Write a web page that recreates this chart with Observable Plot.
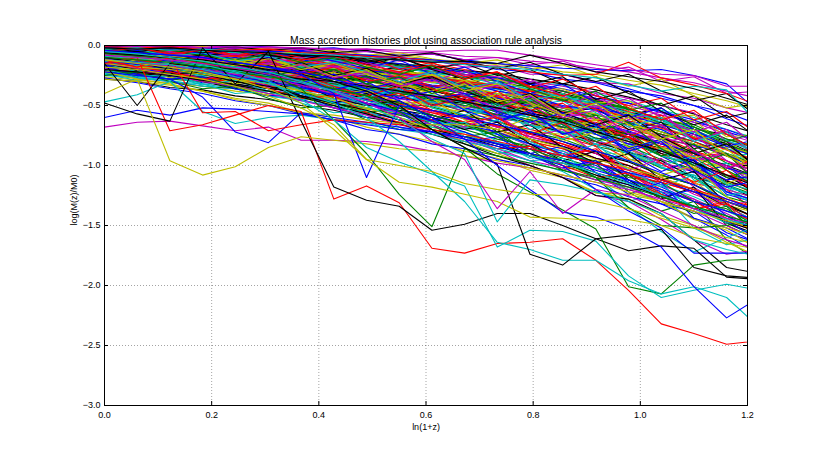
<!DOCTYPE html>
<html>
<head>
<meta charset="utf-8">
<script src="https://cdn.jsdelivr.net/npm/d3@7"></script>
<script src="https://cdn.jsdelivr.net/npm/@observablehq/plot@0.6"></script>
<style>
  html, body { margin: 0; padding: 0; background: #fff; }
</style>
</head>
<body>
<div id="chart"></div>
<script>
// ---- text ----
const titleText = "Mass accretion histories plot using association rule analysis";
const xLabelText = "ln(1+z)";
const yLabelText = "log(M(z)/M0)";

// ---- tick labels ----
const xTicks = [0, 0.2, 0.4, 0.6, 0.8, 1.0, 1.2];
const yTicks = [0, -0.5, -1.0, -1.5, -2.0, -2.5, -3.0];

// ---- sample positions ln(1+z) ----
const xValues = [0, .061, .122, .183, .244, .306, .367, .428, .489, .55, .611, .672, .733, .794, .855, .917, .978, 1.039, 1.1, 1.161, 1.222];

// ---- matplotlib classic colour cycle ----
const colorCycle = ["b", "g", "r", "c", "m", "y", "k"];
const colorHex = {b: "#0000ff", g: "#008000", r: "#ff0000", c: "#00bfbf", m: "#bf00bf", y: "#bfbf00", k: "#000000"};

// ---- bulk of the histories (colours follow the cycle) ----
const bandHistories = [
[0,-.01,0,-.02,0,-.01,-.03,-.02,-.05,-.08,-.07,-.12,-.15,-.19,-.24,-.30,-.36,-.44,-.50,-.61,-.70],
[-.08,-.12,-.10,-.15,-.14,-.19,-.20,-.26,-.25,-.33,-.34,-.38,-.47,-.49,-.57,-.70,-.72,-.85,-.90,-1.08,-1.12],
[-.14,-.16,-.20,-.19,-.25,-.26,-.33,-.32,-.40,-.42,-.50,-.52,-.61,-.64,-.77,-.80,-.95,-.98,-1.15,-1.20,-1.40],
[-.04,-.06,-.05,-.08,-.07,-.10,-.10,-.15,-.14,-.20,-.21,-.27,-.29,-.37,-.40,-.51,-.53,-.66,-.70,-.86,-.92],
[-.18,-.22,-.26,-.28,-.33,-.35,-.40,-.46,-.48,-.56,-.60,-.69,-.72,-.84,-.88,-1.02,-1.06,-1.22,-1.28,-1.47,-1.55],
[-.10,-.09,-.13,-.14,-.15,-.20,-.22,-.24,-.30,-.33,-.40,-.45,-.52,-.60,-.68,-.80,-.88,-1.02,-1.10,-1.30,-1.38],
[-.03,-.05,-.06,-.05,-.10,-.11,-.14,-.18,-.20,-.27,-.30,-.38,-.43,-.50,-.58,-.66,-.78,-.86,-1.00,-1.08,-1.25],
[-.21,-.22,-.24,-.27,-.28,-.31,-.33,-.36,-.38,-.40,-.43,-.46,-.49,-.54,-.60,-.66,-.72,-.82,-.90,-1.02,-1.12],
[-.13,-.17,-.17,-.22,-.23,-.27,-.30,-.35,-.37,-.44,-.47,-.55,-.58,-.66,-.72,-.84,-.90,-1.02,-1.10,-1.26,-1.34],
[-.01,0,-.02,-.01,-.03,-.02,-.05,-.06,-.09,-.12,-.15,-.20,-.24,-.30,-.38,-.45,-.55,-.62,-.74,-.82,-.95],
[-.06,-.08,-.07,-.11,-.12,-.13,-.17,-.19,-.21,-.26,-.27,-.33,-.36,-.42,-.46,-.54,-.60,-.70,-.76,-.90,-.98],
[-.16,-.18,-.21,-.22,-.26,-.29,-.30,-.36,-.39,-.45,-.46,-.55,-.57,-.67,-.70,-.82,-.86,-1.00,-1.05,-1.22,-1.30],
[-.11,-.13,-.12,-.17,-.16,-.21,-.22,-.27,-.29,-.34,-.38,-.42,-.48,-.54,-.58,-.68,-.74,-.85,-.93,-1.04,-1.18],
[-.02,-.03,-.01,-.04,-.03,-.06,-.08,-.09,-.13,-.15,-.19,-.22,-.28,-.32,-.40,-.46,-.56,-.64,-.76,-.86,-1.00],
[-.24,-.27,-.30,-.34,-.36,-.42,-.45,-.52,-.55,-.62,-.66,-.76,-.80,-.92,-.96,-1.10,-1.16,-1.32,-1.38,-1.56,-1.65],
[-.07,-.09,-.11,-.10,-.14,-.16,-.16,-.21,-.22,-.28,-.29,-.36,-.40,-.46,-.52,-.61,-.66,-.78,-.83,-.98,-1.05],
[-.12,-.11,-.15,-.16,-.19,-.20,-.25,-.27,-.33,-.35,-.42,-.46,-.53,-.58,-.66,-.72,-.82,-.90,-1.02,-1.12,-1.26],
[-.09,-.10,-.10,-.12,-.13,-.16,-.18,-.20,-.24,-.26,-.31,-.34,-.40,-.44,-.51,-.57,-.64,-.72,-.80,-.90,-1.00],
[-.17,-.20,-.20,-.25,-.27,-.31,-.35,-.38,-.44,-.47,-.55,-.59,-.68,-.73,-.84,-.90,-1.02,-1.10,-1.24,-1.34,-1.48],
[-.04,-.04,-.07,-.07,-.09,-.12,-.13,-.17,-.18,-.24,-.25,-.31,-.34,-.41,-.45,-.53,-.59,-.68,-.76,-.86,-.97],
[-.05,-.10,-.08,-.06,-.12,-.10,-.16,-.14,-.22,-.18,-.28,-.26,-.36,-.32,-.46,-.44,-.58,-.52,-.70,-.74,-.88],
[-.15,-.12,-.18,-.24,-.20,-.28,-.25,-.34,-.40,-.36,-.48,-.45,-.56,-.66,-.60,-.78,-.74,-.92,-1.06,-1.00,-1.22],
[-.03,-.02,-.06,-.04,-.05,-.09,-.07,-.12,-.10,-.16,-.30,-.32,-.35,-.38,-.44,-.48,-.52,-.62,-.66,-.78,-.84],
[-.19,-.16,-.22,-.20,-.27,-.24,-.32,-.30,-.38,-.35,-.45,-.42,-.54,-.50,-.64,-.62,-.78,-.74,-.92,-.90,-1.10],
[-.10,-.14,-.13,-.19,-.18,-.24,-.22,-.30,-.36,-.34,-.44,-.41,-.55,-.52,-.68,-.66,-.84,-.80,-1.00,-.98,-1.20],
[-.01,-.02,-.05,-.03,-.02,-.06,-.05,-.09,-.08,-.13,-.12,-.18,-.17,-.24,-.24,-.31,-.32,-.40,-.44,-.52,-.58],
[-.13,-.15,-.14,-.20,-.19,-.25,-.26,-.31,-.33,-.40,-.52,-.55,-.58,-.66,-.70,-.80,-.86,-.98,-1.04,-1.20,-1.28],
[-.08,-.06,-.10,-.09,-.14,-.12,-.18,-.17,-.23,-.22,-.28,-.29,-.35,-.37,-.44,-.48,-.56,-.62,-.72,-.80,-.92],
[-.22,-.25,-.26,-.31,-.32,-.38,-.40,-.47,-.49,-.57,-.60,-.68,-.74,-.82,-.90,-.98,-1.08,-1.18,-1.30,-1.42,-1.56],
[-.06,-.05,-.09,-.08,-.12,-.11,-.16,-.15,-.22,-.20,-.26,-.33,-.32,-.40,-.45,-.50,-.58,-.64,-.74,-.82,-.94],
[-.14,-.18,-.17,-.21,-.24,-.23,-.29,-.28,-.34,-.38,-.37,-.45,-.47,-.54,-.62,-.64,-.74,-.84,-.88,-1.02,-1.10],
[-.02,-.01,-.03,-.06,-.04,-.08,-.06,-.11,-.12,-.16,-.16,-.22,-.24,-.30,-.33,-.40,-.46,-.54,-.60,-.70,-.78],
[-.11,-.09,-.12,-.14,-.17,-.16,-.21,-.24,-.24,-.30,-.34,-.36,-.42,-.47,-.52,-.60,-.66,-.76,-.84,-.96,-1.06],
[-.26,-.29,-.31,-.34,-.38,-.41,-.44,-.49,-.53,-.57,-.62,-.68,-.72,-.80,-.86,-.94,-1.02,-1.12,-1.22,-1.34,-1.44],
[-.09,-.12,-.14,-.15,-.17,-.20,-.23,-.26,-.30,-.34,-.38,-.43,-.48,-.54,-.60,-.68,-.78,-.86,-.96,-1.10,-1.20],
[-.04,-.06,-.04,-.07,-.10,-.08,-.12,-.15,-.14,-.19,-.22,-.24,-.30,-.32,-.38,-.44,-.48,-.56,-.64,-.70,-.80],
[-.16,-.15,-.19,-.21,-.22,-.26,-.28,-.32,-.36,-.38,-.44,-.48,-.53,-.60,-.65,-.74,-.80,-.92,-1.00,-1.14,-1.24],
[-.07,-.10,-.09,-.13,-.13,-.17,-.19,-.22,-.26,-.28,-.34,-.37,-.43,-.47,-.55,-.60,-.70,-.76,-.88,-.96,-1.10],
[-.12,-.14,-.17,-.18,-.22,-.23,-.28,-.30,-.36,-.39,-.46,-.50,-.58,-.63,-.72,-.78,-.90,-.96,-1.10,-1.18,-1.34],
[-.03,-.03,-.04,-.05,-.07,-.08,-.10,-.12,-.15,-.18,-.20,-.25,-.28,-.34,-.38,-.45,-.50,-.58,-.64,-.74,-.82],
[-.05,-.08,-.11,-.09,-.13,-.17,-.15,-.22,-.20,-.27,-.31,-.29,-.38,-.44,-.40,-.55,-.50,-.68,-.62,-.85,-.80],
[-.18,-.21,-.23,-.26,-.30,-.33,-.36,-.41,-.44,-.50,-.54,-.61,-.66,-.73,-.80,-.90,-.97,-1.08,-1.16,-1.30,-1.40],
[-.10,-.11,-.13,-.16,-.15,-.19,-.21,-.22,-.27,-.28,-.33,-.35,-.41,-.43,-.51,-.54,-.63,-.68,-.78,-.86,-.98],
[-.01,-.03,-.02,-.04,-.06,-.05,-.09,-.11,-.13,-.17,-.19,-.24,-.27,-.34,-.38,-.46,-.52,-.62,-.70,-.82,-.92],
[-.20,-.19,-.24,-.28,-.27,-.33,-.36,-.40,-.46,-.48,-.56,-.60,-.68,-.76,-.82,-.94,-1.00,-1.14,-1.22,-1.38,-1.48],
[-.08,-.07,-.09,-.12,-.11,-.15,-.14,-.19,-.19,-.25,-.24,-.31,-.32,-.40,-.41,-.50,-.53,-.64,-.68,-.80,-.86],
[-.13,-.17,-.16,-.19,-.23,-.24,-.27,-.32,-.33,-.39,-.43,-.47,-.53,-.58,-.66,-.71,-.82,-.88,-1.00,-1.08,-1.22],
[-.06,-.04,-.07,-.10,-.08,-.12,-.15,-.14,-.19,-.22,-.24,-.29,-.33,-.38,-.44,-.50,-.56,-.66,-.72,-.84,-.92],
[-.15,-.17,-.19,-.23,-.24,-.28,-.31,-.34,-.39,-.42,-.49,-.52,-.60,-.64,-.73,-.80,-.89,-.96,-1.10,-1.16,-1.30],
[-.02,-.04,-.03,-.05,-.05,-.07,-.09,-.10,-.14,-.15,-.20,-.22,-.27,-.31,-.36,-.42,-.48,-.55,-.62,-.72,-.80],
[-.22,-.24,-.28,-.30,-.35,-.38,-.42,-.48,-.52,-.58,-.64,-.70,-.78,-.84,-.94,-1.02,-1.12,-1.24,-1.34,-1.48,-1.60],
[-.12,-.16,-.18,-.21,-.25,-.30,-.34,-.40,-.44,-.52,-.56,-.64,-.70,-.80,-.86,-.98,-1.06,-1.20,-1.30,-1.44,-1.56],
[-.25,-.27,-.30,-.32,-.36,-.38,-.43,-.46,-.52,-.56,-.62,-.68,-.74,-.82,-.88,-.98,-1.06,-1.16,-1.26,-1.38,-1.50],
[-.09,-.13,-.15,-.20,-.22,-.28,-.32,-.37,-.42,-.48,-.54,-.61,-.68,-.76,-.84,-.94,-1.04,-1.16,-1.28,-1.40,-1.54],
[-.17,-.22,-.24,-.30,-.33,-.38,-.44,-.48,-.55,-.60,-.68,-.74,-.82,-.90,-1.00,-1.08,-1.20,-1.30,-1.44,-1.54,-1.70],
[-.28,-.30,-.35,-.37,-.42,-.45,-.50,-.54,-.60,-.64,-.70,-.76,-.82,-.90,-.96,-1.06,-1.14,-1.26,-1.34,-1.48,-1.58],
[-.14,-.13,-.18,-.22,-.24,-.30,-.36,-.38,-.46,-.50,-.58,-.66,-.72,-.82,-.90,-1.00,-1.12,-1.22,-1.36,-1.46,-1.62],
[-.19,-.23,-.22,-.28,-.30,-.34,-.40,-.42,-.50,-.52,-.62,-.64,-.76,-.78,-.92,-.96,-1.10,-1.14,-1.30,-1.36,-1.52],
[-.07,-.11,-.14,-.18,-.23,-.26,-.32,-.36,-.42,-.47,-.54,-.60,-.67,-.74,-.82,-.90,-1.00,-1.10,-1.20,-1.32,-1.46],
[-.23,-.26,-.29,-.34,-.36,-.42,-.46,-.50,-.57,-.60,-.68,-.72,-.81,-.86,-.96,-1.02,-1.14,-1.20,-1.34,-1.42,-1.56],
[0,-.01,-.01,0,-.02,-.01,-.02,-.04,-.03,-.06,-.06,-.09,-.10,-.13,-.15,-.19,-.22,-.27,-.31,-.38,-.44],
[-.03,-.02,-.04,-.03,-.05,-.04,-.07,-.06,-.09,-.08,-.12,-.13,-.16,-.17,-.22,-.24,-.29,-.33,-.40,-.46,-.54],
[-.05,-.06,-.05,-.08,-.07,-.09,-.09,-.12,-.12,-.16,-.17,-.21,-.23,-.28,-.32,-.37,-.43,-.50,-.57,-.66,-.74],
[-.01,0,-.02,-.03,-.02,-.05,-.04,-.07,-.09,-.10,-.14,-.15,-.20,-.22,-.28,-.31,-.38,-.42,-.50,-.56,-.66],
[-.04,-.03,-.06,-.05,-.08,-.09,-.11,-.13,-.16,-.18,-.22,-.26,-.30,-.35,-.41,-.47,-.53,-.61,-.68,-.78,-.86],
[-.11,-.08,-.14,-.12,-.18,-.15,-.22,-.20,-.28,-.24,-.34,-.31,-.42,-.38,-.52,-.48,-.64,-.58,-.78,-.72,-.96],
[-.09,-.14,-.11,-.17,-.14,-.21,-.18,-.26,-.23,-.32,-.29,-.40,-.36,-.50,-.46,-.62,-.58,-.76,-.72,-.92,-.90],
[-.16,-.14,-.20,-.17,-.24,-.21,-.29,-.26,-.35,-.32,-.43,-.40,-.53,-.49,-.65,-.60,-.80,-.74,-.96,-.90,-1.14],
[-.06,-.09,-.07,-.12,-.09,-.15,-.13,-.19,-.17,-.24,-.22,-.30,-.28,-.38,-.36,-.48,-.46,-.60,-.58,-.76,-.74],
[-.13,-.10,-.16,-.14,-.20,-.17,-.24,-.22,-.30,-.27,-.37,-.34,-.46,-.42,-.56,-.52,-.70,-.64,-.86,-.80,-1.04],
[-.04,-.05,-.07,-.06,-.08,-.20,-.22,-.24,-.23,-.27,-.29,-.33,-.36,-.40,-.46,-.52,-.58,-.66,-.74,-.84,-.94],
[-.10,-.12,-.11,-.13,-.15,-.14,-.18,-.20,-.21,-.24,-.27,-.42,-.44,-.48,-.52,-.58,-.64,-.72,-.80,-.90,-1.00],
[-.07,-.08,-.10,-.12,-.11,-.14,-.16,-.18,-.20,-.23,-.26,-.30,-.33,-.38,-.42,-.62,-.66,-.74,-.80,-.92,-1.00],
[-.15,-.18,-.20,-.22,-.25,-.28,-.30,-.34,-.38,-.40,-.45,-.50,-.54,-.60,-.66,-.72,-.80,-1.02,-1.08,-1.18,-1.26],
[-.02,-.03,-.05,-.06,-.07,-.09,-.10,-.13,-.15,-.18,-.20,-.24,-.26,-.30,-.34,-.39,-.44,-.50,-.56,-.80,-.88],
[-.12,-.13,-.16,-.17,-.20,-.22,-.24,-.28,-.30,-.34,-.36,-.40,-.44,-.48,-.70,-.74,-.80,-.86,-.94,-1.02,-1.12],
[-.08,-.10,-.12,-.14,-.16,-.18,-.21,-.24,-.26,-.30,-.46,-.48,-.52,-.56,-.62,-.68,-.74,-.82,-.90,-1.00,-1.10],
[-.18,-.20,-.22,-.24,-.27,-.30,-.32,-.36,-.40,-.44,-.48,-.52,-.58,-.62,-.68,-.74,-.82,-.88,-.96,-1.24,-1.32],
[-.05,-.06,-.08,-.10,-.12,-.14,-.17,-.28,-.30,-.33,-.36,-.40,-.44,-.48,-.54,-.60,-.66,-.74,-.82,-.92,-1.02],
[-.20,-.22,-.25,-.28,-.30,-.34,-.37,-.41,-.45,-.49,-.54,-.58,-.64,-.70,-.76,-.84,-1.08,-1.14,-1.22,-1.30,-1.40],
[-.11,-.14,-.14,-.19,-.19,-.24,-.25,-.31,-.32,-.39,-.41,-.48,-.51,-.60,-.62,-.74,-.78,-.92,-.98,-1.15,-1.22],
[-.06,-.07,-.10,-.11,-.15,-.15,-.20,-.21,-.27,-.28,-.35,-.36,-.44,-.46,-.57,-.60,-.73,-.78,-.93,-1.00,-1.17],
[-.14,-.17,-.18,-.23,-.23,-.29,-.30,-.37,-.39,-.47,-.48,-.58,-.60,-.72,-.74,-.89,-.91,-1.09,-1.13,-1.33,-1.40],
[-.09,-.11,-.11,-.15,-.16,-.20,-.21,-.27,-.28,-.35,-.37,-.45,-.48,-.57,-.61,-.72,-.76,-.90,-.96,-1.13,-1.20],
[-.03,-.04,-.07,-.07,-.11,-.11,-.15,-.16,-.21,-.23,-.29,-.31,-.38,-.42,-.50,-.54,-.65,-.70,-.83,-.90,-1.05],
[-.17,-.19,-.21,-.25,-.26,-.31,-.33,-.39,-.41,-.48,-.51,-.59,-.63,-.72,-.78,-.88,-.96,-1.08,-1.16,-1.30,-1.40],
[-.10,-.09,-.13,-.13,-.17,-.18,-.22,-.25,-.28,-.33,-.36,-.43,-.47,-.55,-.60,-.70,-.76,-.88,-.94,-1.08,-1.16],
[-.02,-.02,-.04,-.05,-.06,-.08,-.10,-.12,-.16,-.18,-.23,-.26,-.32,-.36,-.43,-.48,-.56,-.62,-.72,-.79,-.90],
[-.13,-.12,-.16,-.18,-.19,-.24,-.25,-.31,-.32,-.40,-.42,-.51,-.54,-.64,-.68,-.80,-.85,-.98,-1.04,-1.20,-1.28],
[-.05,-.07,-.08,-.10,-.12,-.13,-.17,-.18,-.23,-.25,-.30,-.34,-.40,-.44,-.52,-.57,-.66,-.72,-.82,-.90,-1.02],
[-.21,-.23,-.26,-.29,-.32,-.36,-.39,-.44,-.48,-.54,-.58,-.65,-.70,-.78,-.84,-.94,-1.00,-1.12,-1.20,-1.34,-1.44],
[-.08,-.11,-.10,-.14,-.14,-.18,-.19,-.24,-.26,-.31,-.34,-.40,-.44,-.51,-.56,-.65,-.71,-.82,-.89,-1.02,-1.10],
[-.15,-.15,-.18,-.20,-.22,-.25,-.28,-.32,-.35,-.40,-.44,-.50,-.55,-.62,-.68,-.77,-.84,-.95,-1.03,-1.16,-1.26],
[-.04,-.06,-.05,-.09,-.09,-.12,-.13,-.17,-.19,-.23,-.26,-.31,-.35,-.41,-.46,-.53,-.60,-.69,-.77,-.87,-.97],
[-.12,-.15,-.17,-.19,-.23,-.25,-.29,-.33,-.37,-.42,-.47,-.53,-.59,-.66,-.73,-.82,-.90,-1.01,-1.10,-1.22,-1.33],
[-.05,-.12,-.06,-.10,-.18,-.09,-.16,-.25,-.15,-.28,-.22,-.38,-.30,-.45,-.52,-.40,-.62,-.55,-.80,-.70,-.95],
[-.12,-.08,-.15,-.20,-.13,-.24,-.30,-.22,-.36,-.28,-.45,-.52,-.40,-.58,-.70,-.62,-.85,-.78,-1.02,-1.15,-1.05],
[-.02,-.06,-.03,-.09,-.04,-.12,-.08,-.05,-.16,-.10,-.20,-.28,-.18,-.32,-.26,-.45,-.38,-.55,-.66,-.58,-.78],
[-.18,-.14,-.22,-.17,-.28,-.34,-.25,-.38,-.45,-.36,-.50,-.44,-.62,-.56,-.74,-.68,-.90,-1.05,-.95,-1.22,-1.30],
[-.08,-.15,-.10,-.18,-.14,-.22,-.30,-.20,-.32,-.42,-.35,-.48,-.58,-.50,-.66,-.80,-.72,-.92,-.86,-1.10,-1.02],
[-.03,-.01,-.05,-.02,-.08,-.04,-.10,-.16,-.09,-.20,-.14,-.26,-.22,-.35,-.28,-.42,-.50,-.44,-.62,-.55,-.75],
[-.15,-.22,-.17,-.26,-.20,-.30,-.38,-.30,-.44,-.36,-.52,-.60,-.50,-.70,-.62,-.84,-.96,-.86,-1.12,-1.25,-1.20],
[-.10,-.06,-.13,-.09,-.16,-.12,-.22,-.17,-.28,-.34,-.26,-.40,-.33,-.48,-.58,-.50,-.68,-.82,-.74,-.96,-1.10],
[-.06,-.10,-.08,-.14,-.11,-.19,-.14,-.24,-.20,-.31,-.38,-.29,-.45,-.52,-.42,-.62,-.56,-.78,-.90,-.82,-1.05],
[-.20,-.26,-.21,-.30,-.36,-.28,-.42,-.48,-.40,-.55,-.62,-.54,-.72,-.66,-.85,-.98,-.90,-1.12,-1.05,-1.32,-1.45],
[-.01,-.04,-.02,-.07,-.03,-.10,-.06,-.13,-.19,-.12,-.24,-.18,-.30,-.40,-.32,-.48,-.60,-.52,-.70,-.84,-.78],
[-.13,-.09,-.17,-.13,-.21,-.27,-.19,-.30,-.26,-.38,-.46,-.36,-.52,-.46,-.64,-.58,-.78,-.92,-.82,-1.04,-1.18],
[-.07,-.12,-.09,-.15,-.20,-.13,-.24,-.18,-.30,-.25,-.36,-.46,-.38,-.54,-.48,-.66,-.76,-.66,-.88,-1.02,-.94],
[-.16,-.12,-.20,-.25,-.18,-.30,-.24,-.36,-.44,-.34,-.50,-.58,-.48,-.66,-.78,-.68,-.88,-1.00,-.92,-1.16,-1.28],
[-.04,-.09,-.05,-.11,-.07,-.14,-.10,-.18,-.14,-.23,-.30,-.21,-.34,-.28,-.42,-.52,-.44,-.60,-.72,-.64,-.86],
[-.22,-.18,-.27,-.22,-.32,-.27,-.38,-.46,-.36,-.52,-.44,-.62,-.70,-.60,-.80,-.72,-.94,-1.08,-1.00,-1.26,-1.40],
[-.09,-.05,-.12,-.08,-.15,-.21,-.14,-.25,-.19,-.32,-.26,-.38,-.48,-.40,-.56,-.66,-.58,-.76,-.90,-.82,-1.02],
[-.11,-.16,-.13,-.20,-.16,-.25,-.31,-.24,-.36,-.30,-.45,-.40,-.55,-.64,-.56,-.74,-.86,-.78,-.98,-1.12,-1.08],
[-.03,-.07,-.04,-.08,-.12,-.07,-.14,-.10,-.18,-.24,-.17,-.28,-.24,-.36,-.46,-.38,-.54,-.48,-.68,-.80,-.72],
[-.14,-.19,-.15,-.23,-.19,-.28,-.24,-.34,-.42,-.34,-.50,-.44,-.60,-.74,-.64,-.84,-.76,-.98,-1.14,-1.04,-1.26],
[-.06,-.03,-.09,-.06,-.13,-.09,-.18,-.14,-.22,-.30,-.22,-.36,-.30,-.46,-.40,-.56,-.68,-.60,-.80,-.72,-.94],
[-.19,-.24,-.20,-.28,-.24,-.34,-.30,-.42,-.50,-.42,-.58,-.68,-.58,-.76,-.70,-.90,-1.04,-.94,-1.18,-1.34,-1.28],
[-.08,-.13,-.10,-.16,-.12,-.20,-.16,-.26,-.21,-.32,-.40,-.32,-.47,-.41,-.58,-.70,-.60,-.80,-.94,-.86,-1.08],
[-.02,-.05,-.02,-.06,-.03,-.08,-.12,-.06,-.14,-.10,-.19,-.15,-.25,-.20,-.32,-.26,-.40,-.50,-.42,-.60,-.54],
[-.17,-.13,-.21,-.16,-.25,-.20,-.30,-.37,-.30,-.44,-.38,-.54,-.64,-.54,-.74,-.66,-.88,-.80,-1.04,-1.18,-1.12],
[-.10,-.15,-.12,-.18,-.14,-.22,-.28,-.20,-.32,-.26,-.40,-.34,-.50,-.44,-.60,-.72,-.64,-.86,-1.00,-.90,-1.16],
[-.05,-.02,-.07,-.04,-.09,-.06,-.12,-.09,-.16,-.22,-.16,-.28,-.22,-.34,-.42,-.34,-.52,-.62,-.54,-.74,-.88],
[-.24,-.29,-.25,-.33,-.29,-.38,-.46,-.38,-.52,-.46,-.62,-.70,-.62,-.80,-.92,-.82,-1.04,-1.18,-1.08,-1.34,-1.48],
[-.12,-.08,-.14,-.10,-.17,-.22,-.16,-.27,-.22,-.34,-.28,-.42,-.52,-.42,-.60,-.54,-.74,-.66,-.88,-1.02,-.96],
[-.07,-.11,-.08,-.13,-.17,-.11,-.20,-.15,-.24,-.32,-.24,-.38,-.32,-.48,-.58,-.48,-.66,-.78,-.70,-.92,-1.06],
[-.15,-.20,-.24,-.22,-.30,-.36,-.32,-.44,-.50,-.46,-.60,-.70,-.64,-.82,-.96,-.88,-1.12,-1.28,-1.18,-1.50,-1.62],
[-.10,-.14,-.12,-.20,-.26,-.22,-.34,-.42,-.38,-.52,-.62,-.58,-.74,-.90,-.84,-1.06,-1.24,-1.14,-1.44,-1.58,-1.74],
[-.20,-.24,-.28,-.26,-.34,-.40,-.38,-.48,-.56,-.52,-.66,-.76,-.72,-.90,-1.04,-.98,-1.22,-1.38,-1.30,-1.62,-1.80],
[-.08,-.12,-.16,-.14,-.22,-.28,-.26,-.36,-.44,-.40,-.54,-.64,-.60,-.78,-.92,-.86,-1.08,-1.26,-1.36,-1.30,-1.66],
[-.13,-.17,-.15,-.23,-.29,-.27,-.37,-.45,-.43,-.56,-.66,-.64,-.80,-.94,-.90,-1.10,-1.30,-1.22,-1.52,-1.66,-1.60],
[-.01,-.03,-.01,-.04,-.02,-.05,-.03,-.07,-.05,-.09,-.07,-.12,-.10,-.16,-.13,-.22,-.18,-.30,-.26,-.40,-.38],
[-.02,0,-.03,-.01,-.04,-.02,-.06,-.04,-.08,-.06,-.11,-.15,-.12,-.20,-.16,-.26,-.34,-.28,-.42,-.52,-.48],
[0,-.02,-.01,-.03,-.01,-.04,-.02,-.06,-.04,-.09,-.06,-.13,-.19,-.14,-.24,-.30,-.24,-.38,-.46,-.40,-.60],
[-.18,-.24,-.28,-.26,-.36,-.42,-.40,-.52,-.60,-.56,-.72,-.80,-.76,-.92,-1.02,-.96,-1.14,-1.26,-1.20,-1.42,-1.55],
[-.25,-.22,-.30,-.36,-.34,-.44,-.52,-.50,-.62,-.70,-.66,-.82,-.90,-.86,-1.04,-1.12,-1.08,-1.28,-1.40,-1.34,-1.58],
[-.12,-.18,-.22,-.28,-.26,-.36,-.44,-.42,-.56,-.64,-.62,-.76,-.86,-.84,-1.00,-1.10,-1.06,-1.24,-1.36,-1.32,-1.52],
[-.20,-.26,-.24,-.32,-.40,-.38,-.48,-.56,-.54,-.68,-.74,-.72,-.88,-.96,-.94,-1.10,-1.20,-1.16,-1.36,-1.48,-1.44],
[-.15,-.19,-.25,-.30,-.34,-.40,-.46,-.52,-.58,-.66,-.72,-.80,-.86,-.96,-1.02,-1.12,-1.18,-1.30,-1.38,-1.50,-1.62],
[-.22,-.28,-.32,-.38,-.44,-.48,-.56,-.60,-.68,-.74,-.80,-.88,-.94,-1.04,-1.10,-1.22,-1.28,-1.42,-1.50,-1.64,-1.76],
[-.10,-.14,-.20,-.24,-.30,-.34,-.42,-.48,-.54,-.62,-.70,-.76,-.84,-.92,-.98,-1.08,-1.16,-1.26,-1.34,-1.46,-1.56],
[-.27,-.31,-.36,-.40,-.46,-.50,-.57,-.62,-.70,-.74,-.82,-.86,-.95,-1.00,-1.10,-1.16,-1.26,-1.32,-1.44,-1.52,-1.66]
];

// ---- individually traced histories and their colours ----
const featuredHistories = [
[-.02,-.01,-.03,-.02,-.04,-.05,-.05,-.07,-.08,-.10,-.12,-.14,-.15,-.17,-.19,-.20,-.21,-.20,-.25,-.32,-.56],
[-.01,-.02,-.01,-.03,-.04,-.03,-.06,-.07,-.09,-.10,-.13,-.15,-.18,-.22,-.25,-.24,-.14,-.27,-.33,-.40,-.50],
[0,-.01,0,-.02,-.01,-.02,-.02,-.03,-.03,-.04,-.05,-.04,-.04,-.08,-.12,-.16,-.20,-.24,-.25,-.34,-.34],
[-.03,-.02,-.04,-.03,-.05,-.06,-.07,-.08,-.10,-.12,-.13,-.16,-.18,-.20,-.24,-.27,-.33,-.38,-.34,-.37,-.66],
[-.02,-.03,-.02,-.04,-.05,-.06,-.08,-.09,-.11,-.12,-.14,-.13,-.15,-.08,-.15,-.22,-.26,-.30,-.36,-.44,-.52],
[-.15,-.18,-.20,-.24,-.28,-.32,-.38,-.44,-.52,-.60,-.70,-.80,-.90,-1.00,-1.10,-1.23,-1.24,-1.30,-1.45,-1.52,-1.60],
[-.12,-.14,-.17,-.20,-.24,-.28,-.33,-.40,-.48,-.56,-.66,-.78,-.88,-1.00,-1.10,-1.25,-1.30,-1.45,-1.62,-1.74,-1.70],
[-.09,-.11,-.14,-.17,-.21,-.26,-.31,-.38,-.46,-.55,-.64,-.76,-.88,-.96,-1.05,-1.20,-1.35,-1.55,-1.72,-1.60,-1.50],
[-.20,-.22,-.25,-.29,-.33,-.38,-.43,-.50,-.57,-.65,-.74,-.82,-.92,-1.00,-1.10,-1.25,-1.28,-1.40,-1.62,-1.85,-1.90],
[-.07,-.09,-.12,-.16,-.20,-.24,-.30,-.36,-.42,-.50,-.58,-.66,-.76,-.86,-.96,-1.10,-1.35,-1.50,-1.52,-1.50,-1.45],
[-.14,-.15,-.18,-.22,-.26,-.30,-.35,-.41,-.48,-.55,-.63,-.72,-.82,-.92,-1.00,-1.20,-1.38,-1.52,-1.73,-1.73,-1.73],
[-.28,-.30,-.33,-.38,-.45,-.50,-.56,-.58,-.62,-.65,-.66,-.66,-.70,-.78,-.85,-.95,-1.02,-1.10,-1.20,-1.30,-1.38],
[-.47,-.41,-.30,-.55,-.65,-.60,-.58,-.62,-.65,-.70,-.74,-.80,-.86,-.92,-.98,-1.06,-1.15,-1.25,-1.34,-1.45,-1.52],
[-.68,-.64,-.63,-.67,-.71,-.68,-.79,-.79,-.80,-.83,-.88,-.92,-.98,-1.02,-1.08,-1.14,-1.20,-1.28,-1.36,-1.44,-1.50],
[-.60,-.54,-.58,-.52,-.53,-.55,-.57,-.62,-.66,-.70,-.72,-.76,-.82,-.86,-.92,-.98,-1.06,-1.12,-1.22,-1.30,-1.38],
[-.22,-.25,-.28,-.43,-.72,-.81,-.56,-.60,-.64,-.68,-.72,-.78,-.84,-.90,-.96,-1.04,-1.12,-1.20,-1.30,-1.38,-1.46],
[-.15,-.10,-.71,-.66,-.58,-.50,-.55,-1.28,-1.17,-1.31,-1.69,-1.73,-1.65,-1.64,-1.61,-1.79,-2.04,-2.32,-2.40,-2.49,-2.46],
[-.12,-.18,-.10,-.56,-.55,-.71,-.66,-.62,-.64,-.66,-.70,-.74,-.80,-.86,-.92,-.98,-1.04,-1.12,-1.20,-1.28,-1.36],
[-.48,-.57,-.63,-.02,-.32,-.05,-.63,-1.18,-1.29,-1.34,-1.54,-1.49,-1.40,-1.40,-1.50,-1.61,-1.71,-1.67,-1.69,-1.93,-1.95],
[-.15,-.50,-.15,-.18,-.20,-.24,-.28,-.30,-.34,-.38,-.42,-.47,-.52,-.58,-.64,-.72,-.80,-.88,-.98,-1.08,-1.18],
[-.40,-.28,-.96,-1.08,-1.01,-.85,-.76,-.79,-.82,-.86,-.88,-.92,-.96,-1.02,-1.08,-1.14,-1.22,-1.30,-1.38,-1.46,-1.54],
[-.06,-.08,-.10,-.14,-.18,-.24,-.36,-.62,-.90,-1.24,-1.51,-.86,-.92,-.98,-1.04,-1.10,-1.18,-1.26,-1.34,-1.42,-1.50],
[-.10,-.12,-.14,-.18,-.22,-.26,-.30,-.36,-.42,-.55,-.70,-.85,-1.07,-1.22,-1.37,-1.53,-2.01,-2.07,-1.83,-1.79,-1.78],
[-.08,-.10,-.12,-.16,-.22,-.30,-.45,-.62,-.85,-.97,-1.07,-1.17,-1.68,-1.54,-1.55,-1.63,-1.92,-2.10,-2.04,-1.99,-2.04],
[-.12,-.14,-.16,-.20,-.26,-.32,-.40,-.48,-.60,-.80,-1.05,-1.30,-1.64,-1.70,-1.79,-1.79,-1.96,-2.07,-2.01,-2.10,-2.35],
[-.06,-.08,-.10,-.12,-.16,-.20,-.24,-.30,-.38,-.50,-.70,-.85,-.99,-1.74,-1.83,-1.61,-1.58,-1.53,-1.85,-1.92,-1.94],
[-.05,-.06,-.08,-.10,-.14,-.18,-.22,-.28,-.36,-.46,-.60,-.78,-1.00,-1.20,-1.39,-1.43,-1.53,-1.68,-2.01,-2.27,-2.10],
[-.04,-.06,-.08,-.10,-.14,-.18,-.24,-.40,-1.10,-.50,-.54,-.60,-.66,-.72,-.80,-.88,-.96,-1.06,-1.16,-1.28,-1.38],
[-.12,-.15,-.18,-.22,-.28,-.36,-.48,-.70,-.95,-1.14,-1.18,-1.24,-1.30,-1.43,-1.44,-1.46,-1.45,-1.50,-1.60,-1.65,-1.70],
[-.18,-.20,-.24,-.28,-.34,-.42,-.52,-.66,-.95,-1.00,-1.05,-1.15,-1.20,-1.24,-1.25,-1.30,-1.36,-1.44,-1.52,-1.60,-1.66],
[-.08,-.10,-.12,-.15,-.19,-.24,-.30,-.38,-.48,-.60,-.80,-.95,-1.36,-1.05,-1.40,-1.20,-1.25,-1.38,-1.50,-1.62,-1.70],
[-.05,-.07,-.10,-.13,-.18,-.22,-.30,-.38,-.50,-.62,-.78,-.90,-1.47,-1.12,-1.16,-1.22,-1.30,-1.40,-1.62,-1.70,-1.76]
];
const featuredColors = ["b","r","m","c","k","y","m","c","k","g","b","y","c","m","b","b","r","r","k","k","y","g","g","c","c","k","b","b","y","y","m","c"];

// ---- long table for Plot ----
const rows = [];
bandHistories.forEach((h, j) => {
  const col = colorHex[colorCycle[j % colorCycle.length]];
  h.forEach((v, i) => rows.push({id: "band" + j, x: xValues[i], y: v, color: col}));
});
featuredHistories.forEach((h, j) => {
  const col = colorHex[featuredColors[j]];
  h.forEach((v, i) => rows.push({id: "feat" + j, x: xValues[i], y: v, color: col}));
});

const fmt = d3.format(".1f");
const W = 831, H = 451, ML = 104, MR = 84, MT = 45, MB = 46;
const plotW = W - ML - MR, plotH = H - MT - MB, tickLen = 4;

const chart = Plot.plot({
  width: W, height: H,
  marginLeft: ML, marginRight: MR, marginTop: MT, marginBottom: MB,
  style: {fontFamily: "'Liberation Sans', Arial, Helvetica, sans-serif", fontSize: "9px", color: "#000", background: "#fff"},
  x: {domain: [0, 1.2]},
  y: {domain: [-3, 0]},
  color: {type: "identity"},
  marks: [
    Plot.gridX(xTicks, {stroke: "#000", strokeOpacity: 0.6, strokeWidth: 0.6, strokeDasharray: "1,2"}),
    Plot.gridY(yTicks, {stroke: "#000", strokeOpacity: 0.6, strokeWidth: 0.6, strokeDasharray: "1,2"}),
    Plot.line(rows, {x: "x", y: "y", z: "id", stroke: "color", strokeWidth: 1.1, clip: true, curve: "linear"}),
    Plot.frame({stroke: "#000", strokeWidth: 1}),
    // inward tick marks on all four sides
    Plot.tickX(xTicks, {x: d => d, insetTop: plotH - tickLen, stroke: "#000"}),
    Plot.tickX(xTicks, {x: d => d, insetBottom: plotH - tickLen, stroke: "#000"}),
    Plot.tickY(yTicks, {y: d => d, insetRight: plotW - tickLen, stroke: "#000"}),
    Plot.tickY(yTicks, {y: d => d, insetLeft: plotW - tickLen, stroke: "#000"}),
    Plot.axisX(xTicks, {tickSize: 0, tickPadding: 6, tickFormat: fmt, label: null, fontSize: 9}),
    Plot.axisY(yTicks, {tickSize: 0, tickPadding: 4, tickFormat: fmt, label: null, fontSize: 9}),
    Plot.text([titleText], {text: d => d, frameAnchor: "top", dy: -9, fontSize: 10.3}),
    Plot.text([xLabelText], {text: d => d, frameAnchor: "bottom", dy: 24, fontSize: 9}),
    Plot.text([yLabelText], {text: d => d, frameAnchor: "left", dx: -30, rotate: -90, fontSize: 9})
  ]
});
document.getElementById("chart").appendChild(chart);
</script>
</body>
</html>
